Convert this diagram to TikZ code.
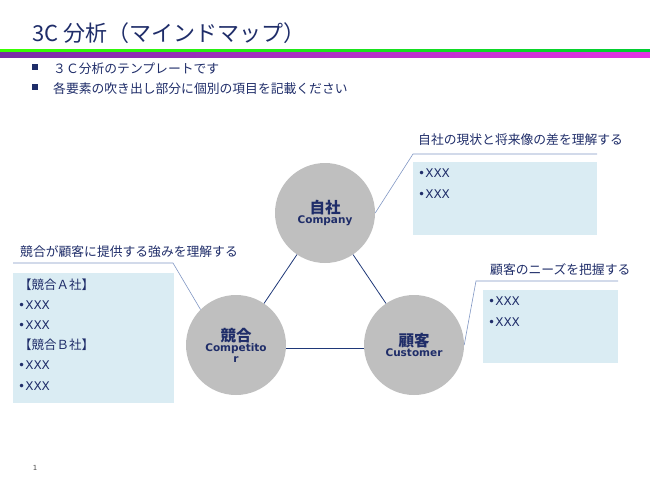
\documentclass[tikz,border=0pt]{standalone}
\usepackage{fontspec}
\setmainfont{DejaVu Sans}
\newfontfamily\jpfont{Noto Sans CJK JP}
\definecolor{navy}{RGB}{31,45,105}
\definecolor{linknavy}{RGB}{31,56,120}
\definecolor{leadblue}{RGB}{128,150,195}
\definecolor{bubblegray}{RGB}{191,191,191}
\definecolor{boxblue}{RGB}{218,236,243}
\definecolor{barpurple}{RGB}{120,45,165}
\definecolor{barmagenta}{RGB}{228,50,228}
\begin{document}
\begin{tikzpicture}[
    x=1pt, y=-1pt,
    circ/.style={circle, fill=bubblegray, minimum size=100pt, inner sep=0, align=center, text=navy},
    link/.style={draw=linknavy, line width=0.8pt},
    leader/.style={draw=leadblue, line width=0.6pt},
    memo/.style={rectangle, fill=boxblue, inner sep=0, anchor=north west},
    item/.style={anchor=west, inner sep=0, text=navy, font=\fontsize{12}{14}\selectfont},
    caption/.style={anchor=west, inner sep=0, text=navy, font=\jpfont\fontsize{12.8}{15}\selectfont}
]
\useasboundingbox (0,0) rectangle (650,488);

% ============================================
% TÍTULO Y BARRA
% ============================================
\node[anchor=west, inner sep=0, text=navy, font=\jpfont\fontsize{22}{24}\selectfont] (title) at (32,33) {3C 分析（マインドマップ）};
\shade[left color=green!70!lime, right color=green!60!teal] (0,49) rectangle (650,51);
\shade[left color=barpurple, right color=barmagenta] (0,52) rectangle (650,57);

% Viñetas
\fill[navy] (32,64) rectangle (38,70);
\fill[navy] (32,84) rectangle (38,90);
\node[caption, font=\jpfont\fontsize{12.8}{15}\selectfont] (sub1) at (53,69) {３Ｃ分析のテンプレートです};
\node[caption, font=\jpfont\fontsize{12.8}{15}\selectfont] (sub2) at (53,89) {各要素の吹き出し部分に個別の項目を記載ください};

% ============================================
% CÍRCULOS 3C
% ============================================
\node[circ] (comp) at (325,213) {{\jpfont\bfseries\fontsize{15.5}{16}\selectfont 自社}\\[-2pt]{\bfseries\fontsize{10.5}{12}\selectfont Company}};
\node[circ] (rival) at (236,345) {{\jpfont\bfseries\fontsize{15.5}{16}\selectfont 競合}\\[-2pt]{\bfseries\fontsize{10.5}{13}\selectfont Competito}\\[-1pt]{\bfseries\fontsize{10.5}{12}\selectfont r}};
\node[circ] (cust) at (414,345) {{\jpfont\bfseries\fontsize{15.5}{16}\selectfont 顧客}\\[-2pt]{\bfseries\fontsize{10.5}{12}\selectfont Customer}};

% Conexiones
\draw[link] (comp) -- (rival);
\draw[link] (comp) -- (cust);
\draw[link] (rival.east |- 0,348) -- (cust.west |- 0,348);

% ============================================
% BOCADILLO: AUTOEMPRESA
% ============================================
\coordinate (compL) at (413,154);
\coordinate (compR) at (597,154);
\draw[leader] (comp.east) -- (compL) -- (compR);
\node[caption] (compT) at (418,140) {自社の現状と将来像の差を理解する};
\node[memo, minimum width=184pt, minimum height=73pt] (compBox) at (413,162) {};
\node[item] (comp1) at (418,173) {•XXX};
\node[item] (comp2) at (418,194) {•XXX};

% ============================================
% BOCADILLO: COMPETIDOR
% ============================================
\coordinate (rivalR) at (173,263);
\coordinate (rivalL) at (13,263);
\draw[leader] (rival.135) -- (rivalR) -- (rivalL);
\node[caption] (rivalT) at (20,252) {競合が顧客に提供する強みを理解する};
\node[memo, minimum width=161pt, minimum height=130pt] (rivalBox) at (13,273) {};
\node[item, font=\jpfont\fontsize{12.5}{14}\selectfont] (rivalA) at (19,285) {【競合Ａ社】};
\node[item] (rival1) at (18,305) {•XXX};
\node[item] (rival2) at (18,325) {•XXX};
\node[item, font=\jpfont\fontsize{12.5}{14}\selectfont] (rivalB) at (19,345) {【競合Ｂ社】};
\node[item] (rival3) at (18,365) {•XXX};
\node[item] (rival4) at (18,386) {•XXX};

% ============================================
% BOCADILLO: CLIENTE
% ============================================
\coordinate (custL) at (476,281);
\coordinate (custR) at (618,281);
\draw[leader] (cust.east) -- (custL) -- (custR);
\node[caption] (custT) at (490,270) {顧客のニーズを把握する};
\node[memo, minimum width=135pt, minimum height=73pt] (custBox) at (483,290) {};
\node[item] (cust1) at (488,301) {•XXX};
\node[item] (cust2) at (488,322) {•XXX};

% Número de página
\node[inner sep=0, font=\fontsize{7}{8}\selectfont, text=black!70] (page) at (35,468) {1};

\end{tikzpicture}
\end{document}
